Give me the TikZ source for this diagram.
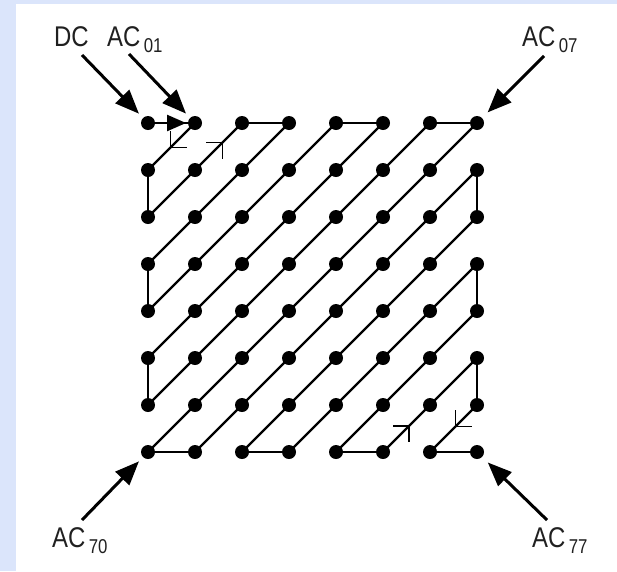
\documentclass[tikz,border=0pt]{standalone}
\usepackage{fontspec}
\setmainfont{Liberation Sans}
\usetikzlibrary{arrows.meta,decorations.markings}
\definecolor{bgblue}{HTML}{DBE5FB}
\definecolor{txt}{HTML}{202020}
\newcommand{\lblsub}[2]{\scalebox{0.84}[1]{#1\hspace{4pt}\raisebox{-6pt}{\fontsize{20}{20}\selectfont #2}}}
\begin{document}
\begin{tikzpicture}[x=1pt,y=-1pt,
  dot/.style={circle, fill=black, inner sep=0pt, minimum size=14pt},
  zz/.style={line width=2.3pt},
  bigarrow/.style={line width=3pt, -{Triangle[length=24pt,width=19pt]}},
  lbl/.style={font=\fontsize{28.5}{28.5}\selectfont, text=txt, anchor=base west, inner sep=0pt},
  mk/.style={postaction={decorate, decoration={markings,
     mark=at position #1 with {\arrow{Straight Barb[angle=90:16pt,line width=1.4pt]}}}}},
  tri/.style={postaction={decorate, decoration={markings,
     mark=at position #1 with {\arrow{Triangle[length=19pt,width=16pt]}}}}}
]
\useasboundingbox (0,0) rectangle (617,571);
\fill[bgblue] (0,0) rectangle (617,571);
\fill[white] (16,4) rectangle (617,571);

% grid of dots
\foreach \r in {0,...,7}{
  \foreach \c in {0,...,7}{
    \node[dot] (d\r\c) at ({148+47*\c},{123+47*\r}) {};
  }
}

% zigzag path
\draw[zz,tri=0.81] (d00.center) -- (d01.center);
\draw[zz,mk=0.53] (d01.center) -- (d10.center);
\draw[zz] (d10.center) -- (d20.center);
\draw[zz,mk=0.8] (d20.center) -- (d02.center);
\draw[zz] (d02.center) -- (d03.center);
\draw[zz] (d03.center) -- (d30.center);
\draw[zz] (d30.center) -- (d40.center);
\draw[zz] (d40.center) -- (d04.center);
\draw[zz] (d04.center) -- (d05.center);
\draw[zz] (d05.center) -- (d50.center);
\draw[zz] (d50.center) -- (d60.center);
\draw[zz] (d60.center) -- (d06.center);
\draw[zz] (d06.center) -- (d07.center);
\draw[zz] (d07.center) -- (d70.center);
\draw[zz] (d70.center) -- (d71.center);
\draw[zz] (d71.center) -- (d17.center);
\draw[zz] (d17.center) -- (d27.center);
\draw[zz] (d27.center) -- (d72.center);
\draw[zz] (d72.center) -- (d73.center);
\draw[zz] (d73.center) -- (d37.center);
\draw[zz] (d37.center) -- (d47.center);
\draw[zz] (d47.center) -- (d74.center);
\draw[zz] (d74.center) -- (d75.center);
\draw[zz,mk=0.285] (d75.center) -- (d57.center);
\draw[zz] (d57.center) -- (d67.center);
\draw[zz,mk=0.47] (d67.center) -- (d76.center);
\draw[zz] (d76.center) -- (d77.center);

% labels
\node[lbl] (dc) at (54,46) {\scalebox{0.84}[1]{DC}};
\node[lbl] (ac01) at (107,46) {\lblsub{AC}{01}};
\node[lbl] (ac07) at (522,46) {\lblsub{AC}{07}};
\node[lbl] (ac70) at (52,547) {\lblsub{AC}{70}};
\node[lbl] (ac77) at (532,547) {\lblsub{AC}{77}};

% pointer arrows
\coordinate (sdc) at (82,55);
\coordinate (s01) at (129,54);
\coordinate (s07) at (544,56);
\coordinate (s70) at (82,520);
\coordinate (s77) at (547,520);
\draw[bigarrow, shorten >=13pt] (sdc) -- (d00.center);
\draw[bigarrow, shorten >=13pt] (s01) -- (d01.center);
\draw[bigarrow, shorten >=15pt] (s07) -- (d07.center);
\draw[bigarrow, shorten >=13pt] (s70) -- (d70.center);
\draw[bigarrow, shorten >=15pt] (s77) -- (d77.center);
\end{tikzpicture}
\end{document}
